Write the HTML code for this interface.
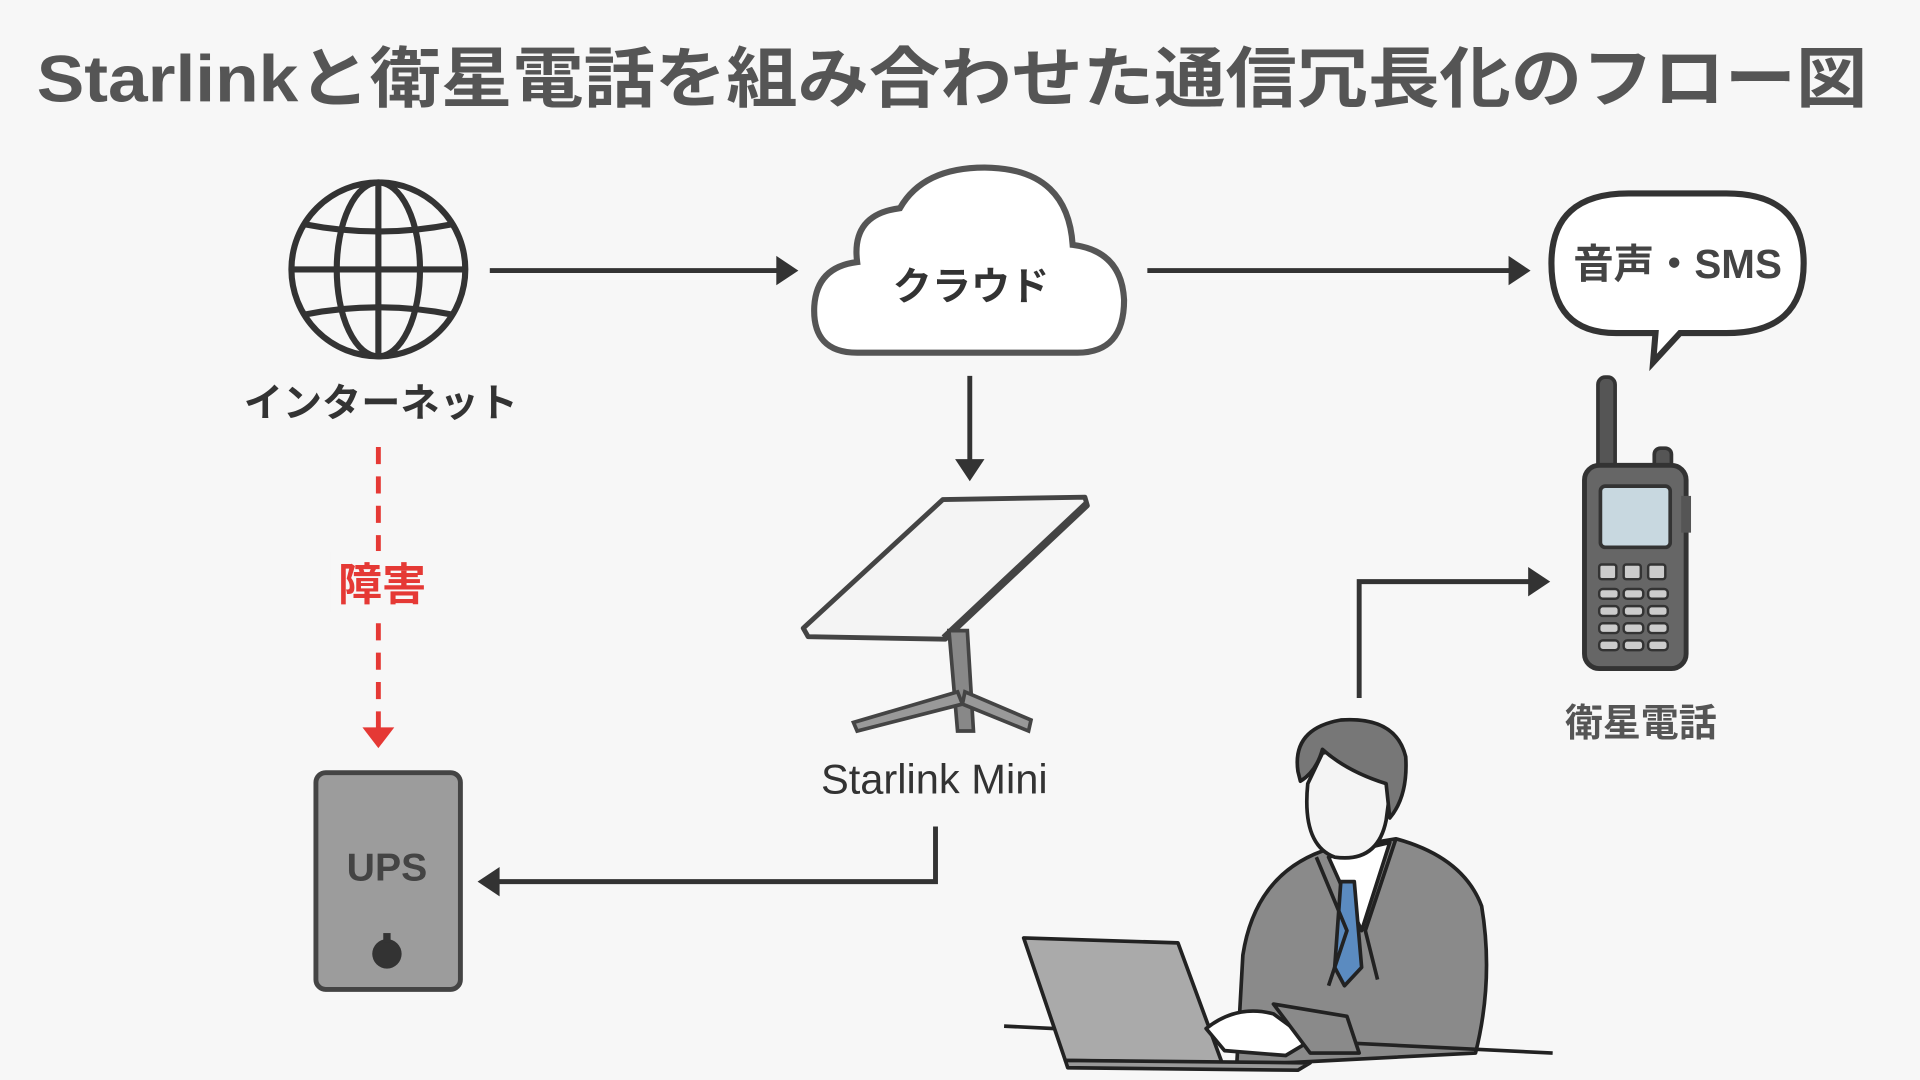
<!DOCTYPE html>
<html><head><meta charset="utf-8"><style>
html,body{margin:0;padding:0;background:#f7f7f7;}
svg{display:block}
text{font-family:"Liberation Sans","Noto Sans CJK JP",sans-serif;font-weight:bold;}
</style></head><body>
<svg width="1920" height="1080" viewBox="0 0 1568 882" preserveAspectRatio="none" xmlns="http://www.w3.org/2000/svg">
<rect width="1568" height="882" fill="#f7f7f7"/>
<text x="30" y="83" font-size="54" fill="#555" textLength="1495" lengthAdjust="spacingAndGlyphs">Starlinkと衛星電話を組み合わせた通信冗長化のフロー図</text>

<!-- globe -->
<g stroke="#333" stroke-width="5" fill="none">
<circle cx="309" cy="220" r="71"/>
<ellipse cx="309" cy="220" rx="34" ry="71"/>
<line x1="309" y1="149" x2="309" y2="291"/>
<line x1="238" y1="220" x2="380" y2="220"/>
<path d="M248 183 Q309 195 370 183"/>
<path d="M248 257 Q309 245 370 257"/>
</g>
<text x="311" y="340" font-size="32" fill="#333" text-anchor="middle">インターネット</text>

<!-- arrows -->
<g stroke="#333" stroke-width="4" fill="none">
<line x1="400" y1="221" x2="636" y2="221"/>
<line x1="937" y1="221" x2="1234" y2="221"/>
<line x1="792" y1="307" x2="792" y2="378"/>
<polyline points="764,675 764,720 406,720"/>
<polyline points="1110,570 1110,475 1250,475"/>
</g>
<g fill="#333">
<polygon points="652,221 634,209 634,233"/>
<polygon points="1250,221 1232,209 1232,233"/>
<polygon points="792,393 780,375 804,375"/>
<polygon points="390,720 408,708 408,732"/>
<polygon points="1266,475 1248,463 1248,487"/>
</g>

<!-- cloud -->
<path d="M700 288 Q663 288 665 250 Q667 218 700 214 Q695 175 735 170 Q755 135 810 137 Q872 140 876 200 Q916 205 918 245 Q918 288 880 288 Z" fill="#fff" stroke="#555" stroke-width="5"/>
<text x="793" y="245" font-size="32" fill="#333" text-anchor="middle">クラウド</text>

<!-- speech bubble -->
<path d="M1320 272 Q1267 272 1267 215 Q1267 158 1330 158 L1410 158 Q1473 158 1473 215 Q1473 272 1410 272 L1372 272 L1350 296 L1352 272 Z" fill="#fff" stroke="#333" stroke-width="5"/>
<text x="1370" y="227" font-size="33" fill="#444" text-anchor="middle">音声・SMS</text>

<!-- starlink -->
<g stroke="#444" stroke-width="3">
<polygon points="770,408 886,406 888,413 772,522 660,520 656,513" fill="#f4f4f4" stroke-linejoin="round" stroke-width="4"/>
<line x1="770" y1="520" x2="886" y2="411"/>
<polygon points="775,515 790,515 795,597 782,597" fill="#888"/>
<polygon points="697,590 782,565 786,575 700,597" fill="#999"/>
<polygon points="788,565 842,588 840,597 786,575" fill="#999"/>
</g>
<text x="763" y="648" font-size="34" fill="#333" text-anchor="middle" style="font-weight:normal">Starlink Mini</text>

<!-- failure -->
<line x1="309" y1="365" x2="309" y2="595" stroke="#e53935" stroke-width="4" stroke-dasharray="14,10"/>
<polygon points="309,611 296,594 322,594" fill="#e53935"/>
<rect x="270" y="450" width="80" height="50" fill="#f7f7f7"/>
<text x="312" y="490" font-size="36" fill="#e53935" text-anchor="middle">障害</text>

<!-- UPS -->
<rect x="258" y="631" width="118" height="177" rx="8" fill="#9c9c9c" stroke="#444" stroke-width="4"/>
<text x="316" y="719" font-size="32" fill="#444" text-anchor="middle">UPS</text>
<circle cx="316" cy="779" r="12" fill="#333"/>
<rect x="313" y="762" width="6" height="8" fill="#333"/>

<!-- walkie talkie -->
<rect x="1305" y="308" width="14" height="80" rx="6" fill="#555" stroke="#333" stroke-width="3"/>
<rect x="1351" y="366" width="14" height="20" rx="5" fill="#555" stroke="#333" stroke-width="3"/>
<rect x="1294" y="380" width="83" height="166" rx="12" fill="#666" stroke="#333" stroke-width="4"/>
<rect x="1373" y="405" width="8" height="30" fill="#555"/>
<rect x="1307" y="397" width="57" height="50" rx="4" fill="#c8d8e0" stroke="#333" stroke-width="3"/>
<g fill="#ccc" stroke="#333" stroke-width="2">
<rect x="1306" y="461" width="14" height="12" rx="2"/><rect x="1326" y="461" width="14" height="12" rx="2"/><rect x="1346" y="461" width="14" height="12" rx="2"/>
<rect x="1306" y="481" width="16" height="8" rx="3"/><rect x="1326" y="481" width="16" height="8" rx="3"/><rect x="1346" y="481" width="16" height="8" rx="3"/>
<rect x="1306" y="495" width="16" height="8" rx="3"/><rect x="1326" y="495" width="16" height="8" rx="3"/><rect x="1346" y="495" width="16" height="8" rx="3"/>
<rect x="1306" y="509" width="16" height="8" rx="3"/><rect x="1326" y="509" width="16" height="8" rx="3"/><rect x="1346" y="509" width="16" height="8" rx="3"/>
<rect x="1306" y="523" width="16" height="8" rx="3"/><rect x="1326" y="523" width="16" height="8" rx="3"/><rect x="1346" y="523" width="16" height="8" rx="3"/>
</g>
<text x="1340" y="601" font-size="31" fill="#555" text-anchor="middle">衛星電話</text>

<!-- person -->
<g stroke="#222" stroke-width="3" stroke-linejoin="round">
<path d="M1010 870 L1015 780 Q1025 715 1080 695 L1140 685 Q1195 700 1210 740 Q1220 800 1205 860 Z" fill="#8a8a8a"/>
<polygon points="1085,700 1135,688 1112,760" fill="#fff"/>
<polygon points="1095,720 1106,720 1112,790 1098,805 1090,790" fill="#5b8bc0"/>
<path d="M1075 700 L1100 760 L1085 805 M1140 685 L1115 760 L1125 800" fill="none"/>
<path d="M1068 640 Q1063 690 1090 700 Q1125 705 1132 670 L1138 625 Q1120 605 1080 615 Z" fill="#f4f4f4"/>
<path d="M1060 630 Q1055 595 1095 588 Q1140 585 1148 618 Q1150 650 1135 668 L1132 640 Q1100 630 1080 612 Q1075 630 1062 638 Z" fill="#777"/>
<line x1="820" y1="838" x2="1268" y2="860"/>
<polygon points="836,766 962,770 998,868 870,866" fill="#aaa"/>
<polygon points="870,866 1070,868 1060,874 872,872" fill="#999"/>
<path d="M985 840 Q1010 820 1040 828 L1070 850 L1050 862 L1000 858 Z" fill="#fff"/>
<path d="M1040 820 L1100 830 L1110 860 L1070 860 Z" fill="#8a8a8a"/>
</g>
</svg>
</body></html>
